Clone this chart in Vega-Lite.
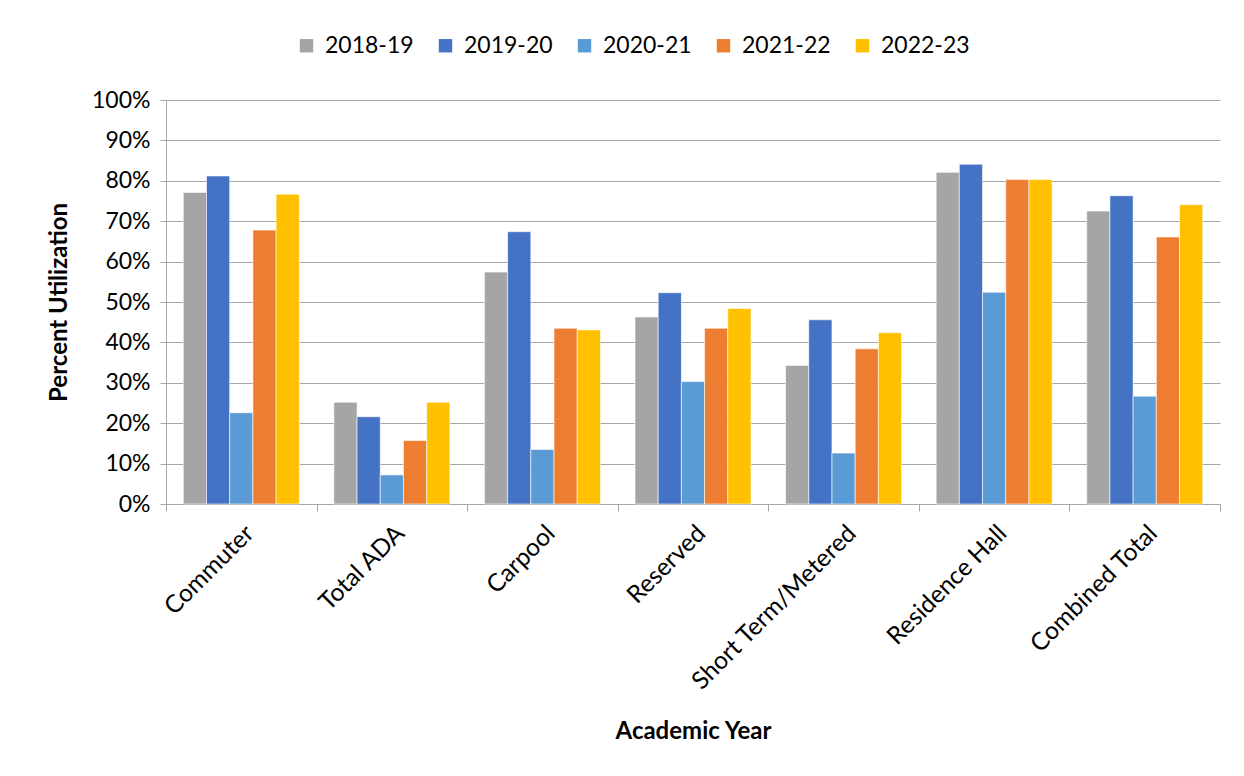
{
  "$schema": "https://vega.github.io/schema/vega-lite/v6.json",
  "width": 1054,
  "height": 404,
  "autosize": {"type": "none"},
  "padding": {"left": 166, "top": 100, "right": 24, "bottom": 272},
  "background": "white",
  "config": {
    "view": {"stroke": null},
    "font": "Lato"
  },
  "data": {
    "values": [
      {"category": "Commuter", "year": "2018-19", "value": 0.771},
      {"category": "Commuter", "year": "2019-20", "value": 0.812},
      {"category": "Commuter", "year": "2020-21", "value": 0.226},
      {"category": "Commuter", "year": "2021-22", "value": 0.678},
      {"category": "Commuter", "year": "2022-23", "value": 0.767},
      {"category": "Total ADA", "year": "2018-19", "value": 0.252},
      {"category": "Total ADA", "year": "2019-20", "value": 0.216},
      {"category": "Total ADA", "year": "2020-21", "value": 0.072},
      {"category": "Total ADA", "year": "2021-22", "value": 0.157},
      {"category": "Total ADA", "year": "2022-23", "value": 0.252},
      {"category": "Carpool", "year": "2018-19", "value": 0.574},
      {"category": "Carpool", "year": "2019-20", "value": 0.674},
      {"category": "Carpool", "year": "2020-21", "value": 0.135},
      {"category": "Carpool", "year": "2021-22", "value": 0.435},
      {"category": "Carpool", "year": "2022-23", "value": 0.431},
      {"category": "Reserved", "year": "2018-19", "value": 0.463},
      {"category": "Reserved", "year": "2019-20", "value": 0.523},
      {"category": "Reserved", "year": "2020-21", "value": 0.303},
      {"category": "Reserved", "year": "2021-22", "value": 0.435},
      {"category": "Reserved", "year": "2022-23", "value": 0.484},
      {"category": "Short Term/Metered", "year": "2018-19", "value": 0.343},
      {"category": "Short Term/Metered", "year": "2019-20", "value": 0.456},
      {"category": "Short Term/Metered", "year": "2020-21", "value": 0.126},
      {"category": "Short Term/Metered", "year": "2021-22", "value": 0.384},
      {"category": "Short Term/Metered", "year": "2022-23", "value": 0.424},
      {"category": "Residence Hall", "year": "2018-19", "value": 0.821},
      {"category": "Residence Hall", "year": "2019-20", "value": 0.841},
      {"category": "Residence Hall", "year": "2020-21", "value": 0.524},
      {"category": "Residence Hall", "year": "2021-22", "value": 0.803},
      {"category": "Residence Hall", "year": "2022-23", "value": 0.803},
      {"category": "Combined Total", "year": "2018-19", "value": 0.725},
      {"category": "Combined Total", "year": "2019-20", "value": 0.763},
      {"category": "Combined Total", "year": "2020-21", "value": 0.267},
      {"category": "Combined Total", "year": "2021-22", "value": 0.661},
      {"category": "Combined Total", "year": "2022-23", "value": 0.741}
    ]
  },
  "mark": {"type": "bar", "stroke": "white", "strokeWidth": 0.6},
  "encoding": {
    "x": {
      "field": "category",
      "type": "nominal",
      "sort": null,
      "scale": {"paddingInner": 0, "paddingOuter": 0},
      "axis": {
        "title": "Academic Year",
        "titleFontSize": 24,
        "titleFontWeight": "bold",
        "titleColor": "black",
        "titlePadding": 26,
        "labelAngle": -45,
        "labelFontSize": 24.5,
        "labelColor": "black",
        "labelPadding": 10,
        "labelLimit": 400,
        "tickBand": "extent",
        "tickSize": 7,
        "tickColor": "#a6a6a6",
        "domainColor": "#a6a6a6",
        "grid": false
      }
    },
    "xOffset": {"field": "year", "type": "nominal", "scale": {"paddingInner": 0, "paddingOuter": 0.745}},
    "y": {
      "field": "value",
      "type": "quantitative",
      "scale": {"domain": [0, 1]},
      "axis": {
        "title": "Percent Utilization",
        "titleFontSize": 24,
        "titleFontWeight": "bold",
        "titleColor": "black",
        "titlePadding": 20,
        "values": [0, 0.1, 0.2, 0.3, 0.4, 0.5, 0.6, 0.7, 0.8, 0.9, 1],
        "format": ".0%",
        "labelFontSize": 23,
        "labelColor": "black",
        "labelPadding": 10,
        "tickSize": 6,
        "tickColor": "#a6a6a6",
        "domainColor": "#a6a6a6",
        "gridColor": "#a6a6a6",
        "gridWidth": 1.2
      }
    },
    "color": {
      "field": "year",
      "type": "nominal",
      "scale": {
        "domain": ["2018-19", "2019-20", "2020-21", "2021-22", "2022-23"],
        "range": ["#A5A5A5", "#4472C4", "#5B9BD5", "#ED7D31", "#FFC000"]
      },
      "legend": {
        "title": null,
        "orient": "none",
        "direction": "horizontal",
        "legendX": 129,
        "legendY": -66,
        "symbolType": "square",
        "symbolSize": 180,
        "symbolStrokeWidth": 0,
        "labelFontSize": 23,
        "labelColor": "black",
        "columnPadding": 20,
        "labelOffset": 7
      }
    }
  }
}
